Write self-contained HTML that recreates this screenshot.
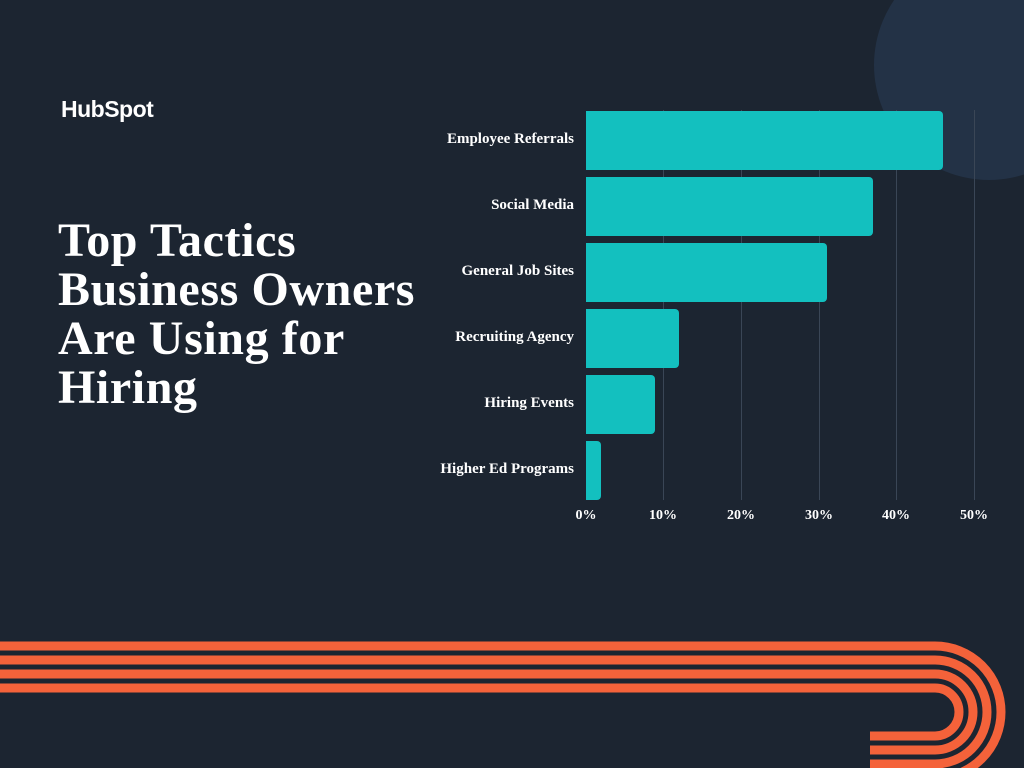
<!DOCTYPE html>
<html><head><style>
body{margin:0;width:1024px;height:768px;overflow:hidden;background:#1c2531;position:relative;font-family:"Liberation Serif",serif;}
.circ{position:absolute;left:874px;top:-50px;width:230px;height:230px;border-radius:50%;background:#233246;}
.logo{position:absolute;left:61px;top:96px;color:#fff;font-family:"Liberation Sans",sans-serif;font-weight:bold;font-size:23px;letter-spacing:-0.5px;}
.title{position:absolute;left:58px;top:216px;color:#fff;font-weight:bold;font-size:48px;line-height:49px;letter-spacing:0.6px;}
.lbl{position:absolute;right:450px;color:#fff;font-weight:bold;font-size:15px;white-space:nowrap;}
.bar{position:absolute;left:586px;height:59px;background:#13c0bf;border-radius:0 4px 4px 0;}
.grid{position:absolute;top:110px;width:1px;height:390px;background:#3a4656;}
.tick{position:absolute;top:508px;color:#fff;font-weight:bold;font-size:14px;width:60px;text-align:center;}
</style></head><body>
<div class="circ"></div>
<div class="logo">HubSpot</div>
<div class="title">Top Tactics<br>Business Owners<br>Are Using for<br>Hiring</div>
<div class="grid" style="left:663px"></div>
<div class="grid" style="left:741px"></div>
<div class="grid" style="left:819px"></div>
<div class="grid" style="left:896px"></div>
<div class="grid" style="left:974px"></div>
<div class="bar" style="top:111px;width:357px"></div>
<div class="bar" style="top:177px;width:287px"></div>
<div class="bar" style="top:243px;width:241px"></div>
<div class="bar" style="top:309px;width:93px"></div>
<div class="bar" style="top:375px;width:69px"></div>
<div class="bar" style="top:441px;width:15px"></div>
<div class="lbl" style="top:131px">Employee Referrals</div>
<div class="lbl" style="top:197px">Social Media</div>
<div class="lbl" style="top:263px">General Job Sites</div>
<div class="lbl" style="top:329px">Recruiting Agency</div>
<div class="lbl" style="top:395px">Hiring Events</div>
<div class="lbl" style="top:461px">Higher Ed Programs</div>
<div class="tick" style="left:556px">0%</div>
<div class="tick" style="left:633px">10%</div>
<div class="tick" style="left:711px">20%</div>
<div class="tick" style="left:789px">30%</div>
<div class="tick" style="left:866px">40%</div>
<div class="tick" style="left:944px">50%</div>
<svg style="position:absolute;left:0;top:0" width="1024" height="768">
<g fill="none" stroke="#f4623a" stroke-width="9">
<path d="M0 646 H935 A66 66 0 0 1 935 778 H870"/>
<path d="M0 660 H935 A52 52 0 0 1 935 764 H870"/>
<path d="M0 674 H935 A38 38 0 0 1 935 750 H870"/>
<path d="M0 688 H935 A24 24 0 0 1 935 736 H870"/>
</g>
</svg>
</body></html>
